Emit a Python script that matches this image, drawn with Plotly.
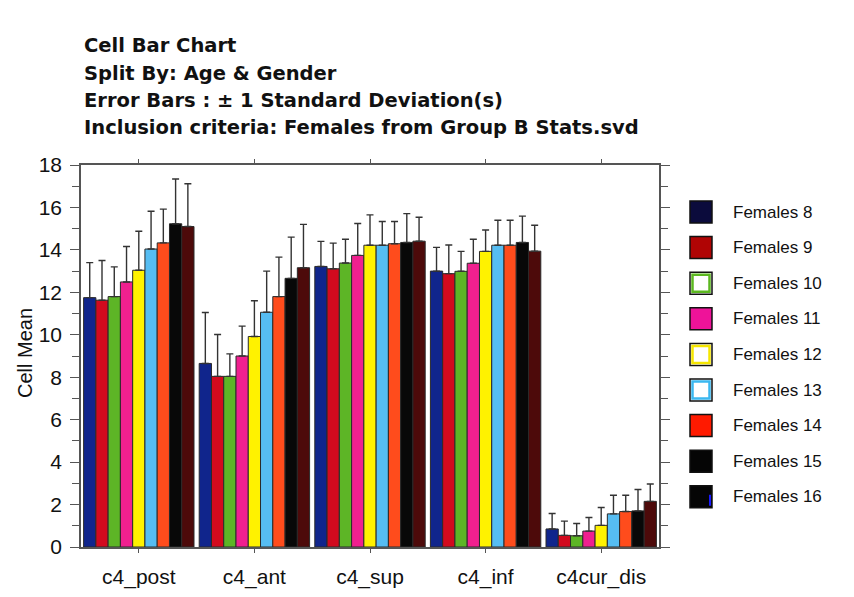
import plotly.graph_objects as go

# Measures on the x axis and the age groups that split each one
categories = ["c4_post", "c4_ant", "c4_sup", "c4_inf", "c4cur_dis"]
groups = ["Females 8", "Females 9", "Females 10", "Females 11", "Females 12",
          "Females 13", "Females 14", "Females 15", "Females 16"]

# Cell means per measure, one value per age group (8 .. 16)
post_mean = [11.75, 11.63, 11.80, 12.49, 13.04, 14.04, 14.33, 15.23, 15.10]
ant_mean = [8.65, 8.04, 8.04, 9.00, 9.92, 11.06, 11.80, 12.66, 13.16]
sup_mean = [13.22, 13.11, 13.38, 13.74, 14.22, 14.22, 14.29, 14.35, 14.41]
inf_mean = [13.00, 12.88, 12.99, 13.37, 13.93, 14.22, 14.22, 14.35, 13.94]
dis_mean = [0.85, 0.55, 0.53, 0.75, 1.02, 1.56, 1.67, 1.70, 2.15]

# Standard deviations per measure
post_sd = [1.65, 1.87, 1.40, 1.67, 1.84, 1.78, 1.59, 2.11, 2.02]
ant_sd = [2.40, 1.97, 1.06, 1.41, 1.68, 1.94, 1.86, 1.94, 2.04]
sup_sd = [1.18, 1.21, 1.12, 1.50, 1.43, 1.12, 1.05, 1.36, 1.13]
inf_sd = [1.12, 1.35, 0.94, 1.13, 1.01, 1.18, 1.18, 1.24, 1.22]
dis_sd = [0.73, 0.67, 0.58, 0.64, 0.84, 0.88, 0.77, 1.01, 0.82]

bar_colors = ["#10258c", "#d20a1e", "#5db526", "#f0208f", "#fff200",
              "#56bdf2", "#ff4c1c", "#080808", "#4d0a0a"]
# legend swatches: (fill, inner ring)
swatch_fill = ["#0b0b3c", "#b00404", "#ffffff", "#ee1399", "#ffffff",
               "#ffffff", "#ff1a00", "#050505", "#050505"]
swatch_ring = [None, None, "#5cb820", None, "#f5e600", "#3bb8f0", None, None, None]

title_lines = ["Cell Bar Chart",
               "Split By: Age & Gender",
               "Error Bars : \u00b1 1 Standard Deviation(s)",
               "Inclusion criteria: Females from Group B Stats.svd"]

mean_cols = [post_mean, ant_mean, sup_mean, inf_mean, dis_mean]
sd_cols = [post_sd, ant_sd, sup_sd, inf_sd, dis_sd]

FONT = "Liberation Sans, Arial, sans-serif"
TITLE_FONT = "DejaVu Sans, Liberation Sans, sans-serif"
W, H = 854, 597
L, R, T, B = 81, 659, 165, 547


def px(x):
    return (x - L) / (R - L)


def py(y):
    return (B - y) / (B - T)


fig = go.Figure()
for i, name in enumerate(groups):
    fig.add_trace(go.Bar(
        x=categories,
        y=[col[i] for col in mean_cols],
        name=name,
        marker=dict(color=bar_colors[i], line=dict(color="#2a2a2a", width=1)),
        error_y=dict(type="data", symmetric=False,
                     array=[col[i] for col in sd_cols],
                     arrayminus=[0] * len(categories),
                     color="#333333", thickness=1.4, width=3.5),
        showlegend=False,
    ))

annotations = []
for k, line in enumerate(title_lines):
    annotations.append(dict(
        text="<b>" + line + "</b>", x=px(82), y=py(46 + 27.3 * k),
        xref="paper", yref="paper", xanchor="left", yanchor="middle",
        showarrow=False, font=dict(family=TITLE_FONT, size=19.5, color="#111111")))

# y axis title, placed by hand
annotations.append(dict(
    text="Cell Mean", x=px(25), y=py(353), xref="paper", yref="paper",
    xanchor="center", yanchor="middle", textangle=-90, showarrow=False,
    font=dict(family=FONT, size=20, color="#111111")))

shapes = []
row0, step = 212, 35.6
for i, name in enumerate(groups):
    cy = row0 + step * i
    shapes.append(dict(type="rect", xref="paper", yref="paper",
                       x0=px(690), x1=px(712), y0=py(cy + 11), y1=py(cy - 11),
                       fillcolor=swatch_fill[i],
                       line=dict(color="#111111", width=1.5)))
    if swatch_ring[i]:
        shapes.append(dict(type="rect", xref="paper", yref="paper",
                           x0=px(692.5), x1=px(709.5), y0=py(cy + 8.5), y1=py(cy - 8.5),
                           fillcolor="rgba(0,0,0,0)",
                           line=dict(color=swatch_ring[i], width=2.5)))
    if i == len(groups) - 1:
        shapes.append(dict(type="rect", xref="paper", yref="paper",
                           x0=px(709), x1=px(711), y0=py(cy + 9), y1=py(cy - 2),
                           fillcolor="#1a1aff", line=dict(width=0)))
    annotations.append(dict(
        text=name, x=px(731), y=py(cy), xref="paper", yref="paper",
        xanchor="left", yanchor="middle", showarrow=False,
        font=dict(family=FONT, size=17, color="#111111")))

axis_line = "#555555"
fig.update_layout(
    width=W, height=H,
    margin=dict(l=L, r=W - R, t=T, b=H - B, pad=0, autoexpand=False),
    paper_bgcolor="white", plot_bgcolor="white",
    barmode="group", bargap=0.045, bargroupgap=0,
    font=dict(family=FONT, size=21, color="#111111"),
    xaxis=dict(showline=True, linecolor=axis_line, linewidth=1.5, mirror="ticks",
               ticks="outside", ticklen=4, tickcolor=axis_line, automargin=False,
               showgrid=False, tickfont=dict(size=21), ticklabelstandoff=6),
    yaxis=dict(range=[0, 18], dtick=2, showline=True, linecolor=axis_line,
               linewidth=1.5, mirror="ticks", ticks="outside", ticklen=9,
               tickcolor=axis_line, showgrid=False, zeroline=False, automargin=False,
               tickfont=dict(size=21), ticklabelstandoff=4,
               minor=dict(dtick=1, ticks="outside", ticklen=7, tickcolor=axis_line)),
    annotations=annotations,
    shapes=shapes,
)

fig.write_html("out.html")
